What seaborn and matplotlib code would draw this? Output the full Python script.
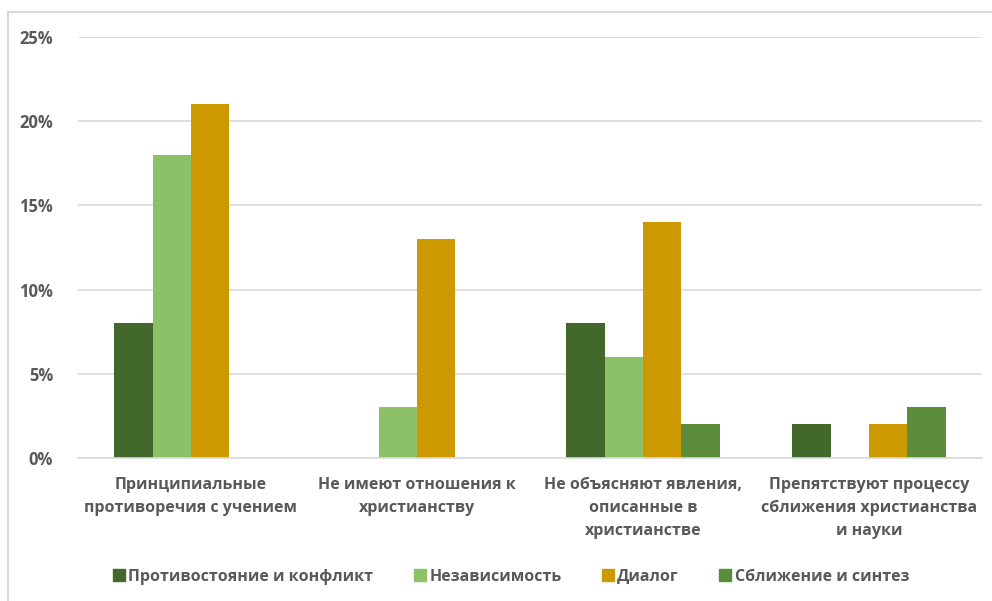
import matplotlib
matplotlib.use("Agg")
import matplotlib.pyplot as plt
import seaborn as sns
import pandas as pd
from matplotlib.ticker import PercentFormatter
from matplotlib.lines import Line2D

categories = [
    "Принципиальные\nпротиворечия с учением",
    "Не имеют отношения к\nхристианству",
    "Не объясняют явления,\nописанные в\nхристианстве",
    "Препятствуют процессу\nсближения христианства\nи науки",
]
series = ["Противостояние и конфликт", "Независимость", "Диалог", "Сближение и синтез"]
conflict = [0.08, 0.00, 0.08, 0.02]
independence = [0.18, 0.03, 0.06, 0.00]
dialog = [0.21, 0.13, 0.14, 0.02]
synthesis = [0.00, 0.00, 0.02, 0.03]
colors = ["#43682B", "#8CC168", "#CC9900", "#5B8C3A"]

rows = []
for name, vals in zip(series, [conflict, independence, dialog, synthesis]):
    for c, v in zip(categories, vals):
        rows.append({"cat": c, "series": name, "value": v})
df = pd.DataFrame(rows)

sns.set_theme(style="white")
plt.rcParams["font.family"] = ["Open Sans", "DejaVu Sans"]
txt = "#595959"

fig = plt.figure(figsize=(9.92, 6.01), dpi=100)
ax = fig.add_axes([78/992, 1-458/601, (982-78)/992, (458-37)/601])

sns.barplot(data=df, x="cat", y="value", hue="series", palette=colors,
            width=0.68, ax=ax, saturation=1, legend=False, errorbar=None,
            edgecolor="none", linewidth=0)

ax.set_ylim(0, 0.25)
ax.set_xlim(-0.5, 3.5)
ax.set_yticks([0, 0.05, 0.10, 0.15, 0.20, 0.25])
ax.yaxis.set_major_formatter(PercentFormatter(1.0, decimals=0))
ax.grid(axis="y", color="#D9D9D9", linewidth=1.2)
ax.set_axisbelow(True)
for s in ["top", "right", "left"]:
    ax.spines[s].set_visible(False)
ax.spines["bottom"].set_color("#D9D9D9")
ax.spines["bottom"].set_linewidth(1.2)
ax.set_xlabel("")
ax.set_ylabel("")
ax.tick_params(axis="y", length=0, pad=18, labelsize=12, labelcolor=txt)
ax.tick_params(axis="x", length=0, pad=14, labelsize=11.5, labelcolor=txt)
for lbl in ax.get_yticklabels():
    lbl.set_fontweight("bold")
for lbl in ax.get_xticklabels():
    lbl.set_fontweight("bold")
    lbl.set_linespacing(1.55)

handles = [Line2D([0], [0], marker="s", linestyle="none", markersize=8,
                  markerfacecolor=c, markeredgecolor=c) for c in colors]
leg = fig.legend(handles, series, loc="center", bbox_to_anchor=(510/992, 1-577/601),
                 ncol=4, frameon=False, handletextpad=0.1, columnspacing=2.4,
                 handlelength=1.0, prop={"size": 11.5, "weight": "bold"})
for t in leg.get_texts():
    t.set_color(txt)

# outer chart frame
fig.add_artist(Line2D([8/992, 8/992], [0, 1-12/601], transform=fig.transFigure,
                      color="#D9D9D9", linewidth=1.5))
fig.add_artist(Line2D([8/992, 1], [1-12/601, 1-12/601], transform=fig.transFigure,
                      color="#D9D9D9", linewidth=1.5))

fig.savefig("out.png", dpi=100)
